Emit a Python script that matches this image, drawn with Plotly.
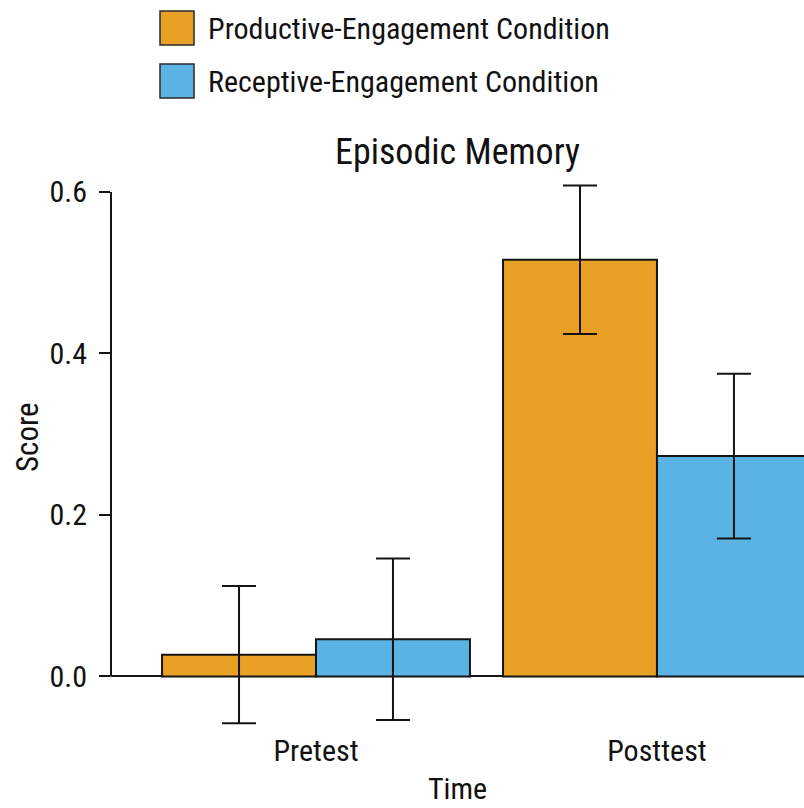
import plotly.graph_objects as go

# Episodic memory scores by time point and condition (mean and standard error)
times = ["Pretest", "Posttest"]
conditions = ["Productive-Engagement Condition", "Receptive-Engagement Condition"]
productive_mean = [0.027, 0.516]
productive_se = [0.085, 0.092]
receptive_mean = [0.046, 0.273]
receptive_se = [0.100, 0.102]
y_tick_values = [0.0, 0.2, 0.4, 0.6]
y_tick_labels = ["0.0", "0.2", "0.4", "0.6"]

colors = ["#E8A125", "#5AB3E4"]
edge = "#141414"
font_family = "Roboto Condensed, Open Sans Condensed, Liberation Sans Narrow, Arial Narrow, sans-serif"

W, H = 804, 808
ML, MR, MT, MB = 111, 0, 176, 78
PW, PH = W - ML - MR, H - MT - MB


def xp(px):
    return (px - ML) / PW


def yp(py):
    return (H - MB - py) / PH


fig = go.Figure()
for name, mean, se, color in zip(conditions,
                                 [productive_mean, receptive_mean],
                                 [productive_se, receptive_se],
                                 colors):
    fig.add_trace(go.Bar(
        x=times, y=mean, name=name,
        marker=dict(color=color, line=dict(color=edge, width=2)),
        error_y=dict(type="data", array=se, visible=True,
                     color=edge, thickness=2, width=17),
        showlegend=False,
    ))

# legend drawn as swatches with labels
for i, (name, color) in enumerate(zip(conditions, colors)):
    top = 11 + i * 53
    fig.add_shape(type="rect", xref="paper", yref="paper",
                  x0=xp(160), x1=xp(194), y0=yp(top + 34), y1=yp(top),
                  fillcolor=color, line=dict(color="#2a2a2a", width=1.5))
    fig.add_annotation(text=name, xref="paper", yref="paper",
                       x=xp(206), y=yp(top + 17), xanchor="left", yanchor="middle",
                       showarrow=False, font=dict(size=30, color="#111"))

# left axis line from 0 to the top tick
fig.add_shape(type="line", xref="paper", yref="y", x0=0, x1=0,
              y0=y_tick_values[0], y1=y_tick_values[-1],
              line=dict(color=edge, width=2))

# axis titles
fig.add_annotation(text="Time", xref="paper", yref="paper",
                   x=0.5, y=yp(788), xanchor="center", yanchor="middle",
                   showarrow=False, font=dict(size=30, color="#111"))
fig.add_annotation(text="Score", xref="paper", yref="paper",
                   x=xp(27), y=yp(437), xanchor="center", yanchor="middle",
                   textangle=-90, showarrow=False, font=dict(size=31, color="#111"))

fig.update_layout(
    width=W, height=H,
    margin=dict(l=ML, r=MR, t=MT, b=MB, pad=0),
    paper_bgcolor="white", plot_bgcolor="white",
    font=dict(family=font_family, size=30, color="#111"),
    title=dict(text="Episodic Memory", x=0.5 * (ML + W) / W, xanchor="center",
               y=1 - 151 / H, yanchor="middle", font=dict(size=36, color="#111")),
    barmode="group", bargap=0.097, bargroupgap=0,
    showlegend=False,
)
fig.update_xaxes(range=[-0.6012, 1.4312], showline=False, showgrid=False,
                 zeroline=False, ticks="", tickfont=dict(size=30, color="#111"))
fig.update_yaxes(range=[-0.0663, 0.6198], showline=False, showgrid=False,
                 zeroline=True, zerolinecolor=edge, zerolinewidth=2,
                 tickmode="array", tickvals=y_tick_values, ticktext=y_tick_labels,
                 ticks="outside", ticklen=11, tickwidth=2, tickcolor=edge,
                 ticklabelstandoff=6, tickfont=dict(size=30, color="#111"))

fig.write_html("out.html")
